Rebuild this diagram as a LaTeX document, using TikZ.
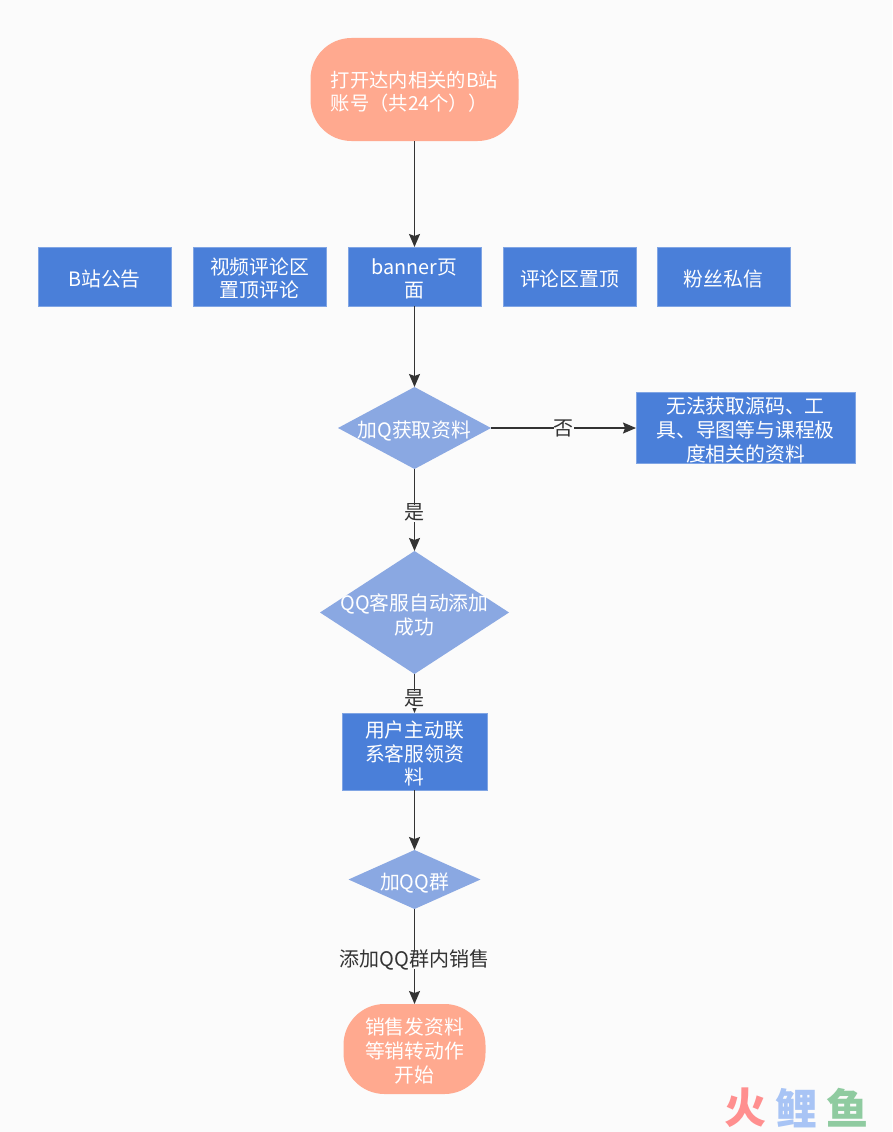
\documentclass[tikz,border=0pt]{standalone}
\usepackage{fontspec}
\setmainfont{Noto Sans CJK SC}
\usetikzlibrary{shapes.geometric,arrows.meta,positioning}
\definecolor{bgc}{HTML}{FBFBFB}
\definecolor{peach}{HTML}{FFA98F}
\definecolor{bluebox}{HTML}{4A7FD9}
\definecolor{bluedia}{HTML}{8AA8E2}
\definecolor{linec}{HTML}{333333}
\definecolor{logored}{HTML}{FF8F8F}
\definecolor{logoblue}{HTML}{A8C4F5}
\definecolor{logogreen}{HTML}{8FCBA0}
\newcommand{\ctext}[1]{\makebox[0pt]{\raisebox{-10pt}[0pt][0pt]{\begin{tabular}{@{}c@{}}#1\end{tabular}}}}
\newcommand{\ltext}[1]{\makebox[0pt]{\raisebox{-10pt}[0pt][0pt]{\begin{tabular}{@{}l@{}}#1\end{tabular}}}}
\tikzset{
  x=1pt,y=-1pt,
  base/.style={font=\fontsize{19.8}{23.5}\selectfont,text=white,align=center,inner sep=0pt,outer sep=0pt},
  terminal/.style={base,rectangle,rounded corners=41pt,fill=peach},
  stepbox/.style={base,rectangle,fill=bluebox,draw=bluebox!70!white,line width=0.6pt},
  smallbox/.style={stepbox,minimum width=133pt,minimum height=59pt},
  decision/.style={base,diamond,fill=bluedia},
  flow/.style={draw=linec,line width=1.3pt,-{Stealth[length=13pt,width=11pt,inset=2pt]}},
  edgelabel/.style={font=\fontsize{20}{22}\selectfont,text=black!80,fill=bgc,inner sep=0pt,text height=15pt,text depth=2pt,yshift=-1pt},
  logo/.style={font=\fontsize{42}{42}\selectfont\bfseries,inner sep=0pt}
}
\begin{document}
\begin{tikzpicture}
\useasboundingbox[fill=bgc] (0,0) rectangle (892,1132);
\node[terminal,minimum width=208pt,minimum height=103pt] (start) at (414.5,89.5) {\ltext{\fontsize{19.3}{23}\selectfont 打开达内相关的B站\\\fontsize{19.3}{23}\selectfont 账号（共24个））}};
\node[smallbox] (b1) at (104.5,276.5) {\ctext{B站公告}};
\node[smallbox] (b2) at (259.5,276.5) {\ctext{视频评论区\\置顶评论}};
\node[smallbox] (b3) at (414.5,276.5) {\ctext{banner页\\面}};
\node[smallbox] (b4) at (569.5,276.5) {\ctext{评论区置顶}};
\node[smallbox] (b5) at (723.5,276.5) {\ctext{粉丝私信}};
\node[decision,minimum width=153pt,minimum height=82pt,shape aspect=1.87] (d1) at (414.5,428) {\ctext{加Q获取资料}};
\node[stepbox,minimum width=219pt,minimum height=71pt] (noinfo) at (745.5,428) {\ctext{无法获取源码、工\\具、导图等与课程极\\度相关的资料}};
\node[decision,minimum width=189pt,minimum height=123pt,shape aspect=1.54] (d2) at (414.5,612.5) {\ctext{QQ客服自动添加\\成功}};
\node[stepbox,minimum width=145pt,minimum height=77pt] (user) at (414.5,751.5) {\ctext{用户主动联\\系客服领资\\料}};
\node[decision,minimum width=132pt,minimum height=59pt,shape aspect=2.24] (d3) at (414.5,879.5) {\ctext{加QQ群}};
\node[terminal,minimum width=142pt,minimum height=90pt] (stop) at (414.5,1049) {\ctext{销售发资料\\等销转动作\\开始}};
\draw[flow] (start) -- (b3);
\draw[flow] (b3) -- (d1);
\draw[flow] (d1) -- node[edgelabel,pos=0.5] {否} (noinfo);
\draw[flow] (d1) -- node[edgelabel,pos=0.53] {是} (d2);
\draw[flow] (d2) -- node[edgelabel,pos=0.62] {是} (user);
\draw[flow] (user) -- (d3);
\draw[flow] (d3) -- node[edgelabel,pos=0.53] {添加QQ群内销售} (stop);
\node[logo,text=logored] (logo1) at (745,1108) {火};
\node[logo,text=logoblue] (logo2) at (796,1108) {鲤};
\node[logo,text=logogreen] (logo3) at (847,1108) {鱼};
\end{tikzpicture}
\end{document}
